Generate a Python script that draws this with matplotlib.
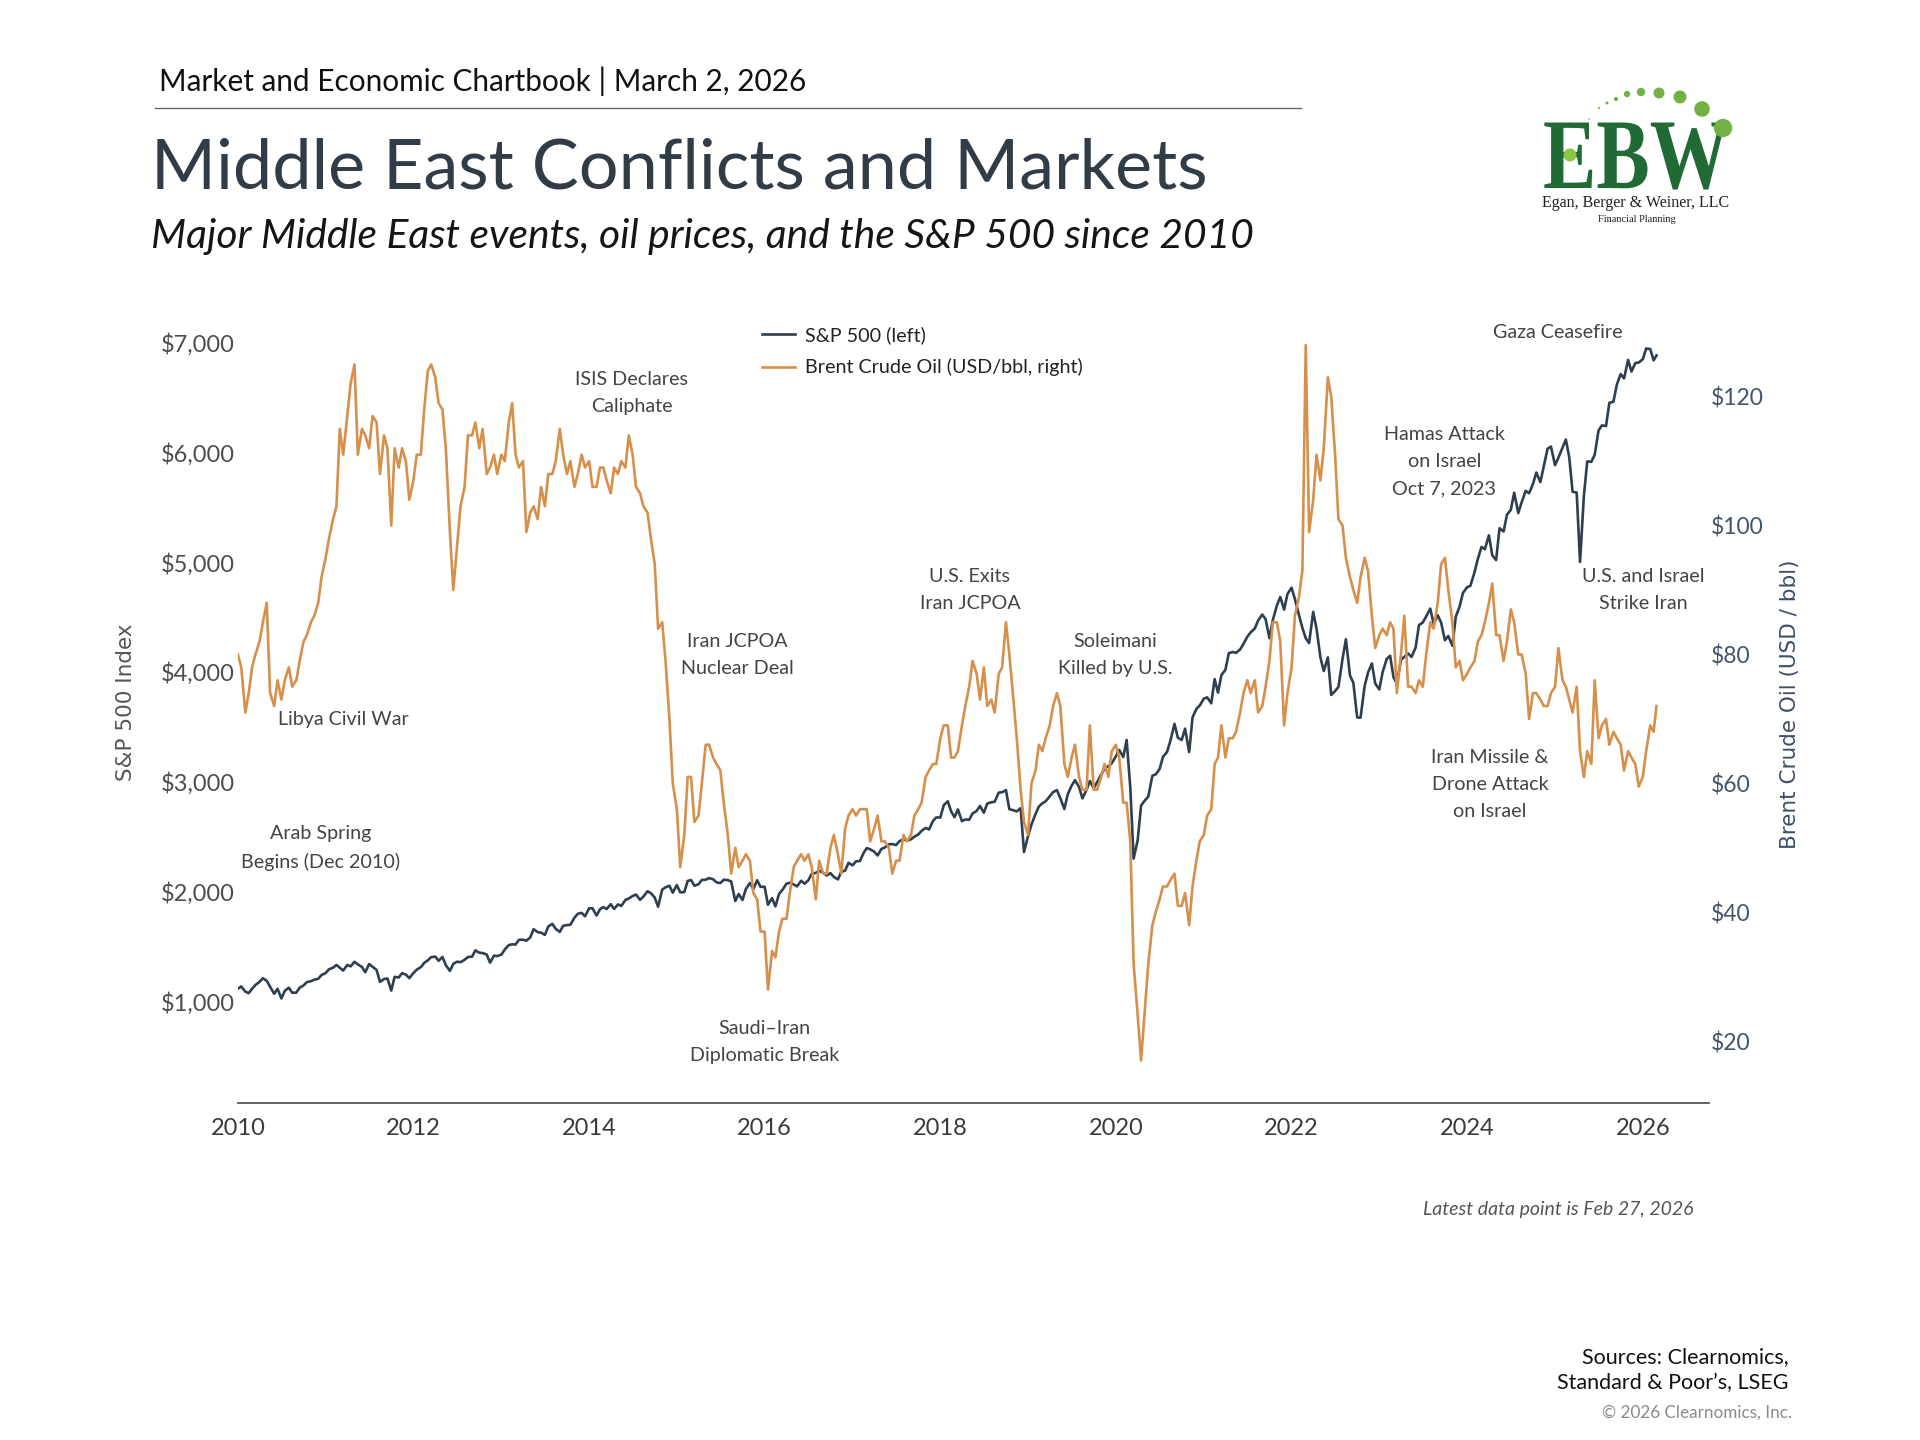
import matplotlib
matplotlib.use('Agg')
import matplotlib.pyplot as plt
import matplotlib.dates as mdates
from matplotlib.lines import Line2D
from matplotlib.patches import PathPatch, Circle
from matplotlib.textpath import TextPath
from matplotlib.font_manager import FontProperties
from matplotlib.transforms import Affine2D
import pandas as pd

plt.rcParams['font.family'] = ['Lato', 'DejaVu Sans']

# S&P 500 level, 1st and 15th of each month (one row per year), last point Feb 27, 2026
sp500 = [
    1115, 1136, 1089, 1075, 1115, 1150, 1178, 1211, 1187, 1135, 1070, 1115, 1027, 1096, 1125, 1079, 1080, 1125, 1146, 1176, 1184, 1198, 1206, 1241,  # 2010
    1258, 1293, 1307, 1332, 1306, 1281, 1332, 1319, 1361, 1337, 1314, 1266, 1340, 1316, 1287, 1178, 1204, 1209, 1099, 1224, 1218, 1257, 1244, 1212,  # 2011
    1258, 1289, 1312, 1351, 1374, 1403, 1408, 1370, 1405, 1330, 1278, 1342, 1362, 1357, 1379, 1405, 1407, 1465, 1444, 1440, 1427, 1353, 1416, 1413,  # 2012
    1426, 1472, 1513, 1520, 1518, 1561, 1562, 1553, 1582, 1658, 1631, 1626, 1606, 1682, 1706, 1661, 1633, 1688, 1695, 1698, 1762, 1798, 1806, 1775,  # 2013
    1848, 1848, 1782, 1838, 1859, 1841, 1885, 1842, 1883, 1870, 1924, 1937, 1960, 1973, 1925, 1955, 2003, 1985, 1946, 1862, 2018, 2039, 2053, 1990,  # 2014
    2059, 1993, 1995, 2097, 2105, 2053, 2067, 2106, 2108, 2123, 2112, 2084, 2077, 2108, 2104, 2092, 1914, 1978, 1923, 2023, 2079, 2023, 2103, 2043,  # 2015
    2044, 1880, 1940, 1865, 1978, 2015, 2072, 2080, 2065, 2047, 2099, 2072, 2103, 2162, 2170, 2190, 2170, 2147, 2168, 2133, 2111, 2180, 2191, 2262,  # 2016
    2239, 2275, 2279, 2349, 2396, 2385, 2363, 2329, 2388, 2402, 2430, 2433, 2423, 2459, 2476, 2465, 2476, 2500, 2519, 2553, 2579, 2565, 2642, 2675,  # 2017
    2674, 2786, 2822, 2730, 2677, 2748, 2641, 2656, 2654, 2711, 2734, 2779, 2718, 2801, 2813, 2818, 2901, 2904, 2924, 2750, 2740, 2730, 2760, 2360,  # 2018
    2507, 2610, 2707, 2775, 2803, 2822, 2867, 2905, 2924, 2850, 2752, 2886, 2964, 3014, 2953, 2848, 2926, 3007, 2940, 2996, 3066, 3120, 3141, 3168,  # 2019
    3231, 3289, 3225, 3380, 2954, 2300, 2470, 2783, 2830, 2864, 3055, 3067, 3115, 3226, 3271, 3373, 3527, 3401, 3380, 3483, 3270, 3585, 3662, 3694,  # 2020
    3756, 3768, 3714, 3934, 3811, 3969, 4020, 4170, 4181, 4173, 4204, 4255, 4320, 4360, 4395, 4468, 4522, 4480, 4307, 4471, 4605, 4682, 4567, 4709,  # 2021
    4766, 4662, 4516, 4401, 4306, 4262, 4546, 4392, 4132, 4008, 4132, 3790, 3825, 3863, 4118, 4297, 3967, 3901, 3585, 3583, 3872, 3992, 4077, 3895,  # 2022
    3840, 3999, 4119, 4147, 3951, 3892, 4109, 4137, 4167, 4136, 4221, 4426, 4450, 4505, 4576, 4437, 4515, 4450, 4288, 4327, 4237, 4502, 4595, 4719,  # 2023
    4770, 4784, 4906, 5029, 5137, 5117, 5243, 5061, 5018, 5308, 5278, 5431, 5475, 5631, 5446, 5543, 5648, 5626, 5709, 5815, 5728, 5870, 6032, 6051,  # 2024
    5882, 5950, 6040, 6115, 5955, 5639, 5633, 5000, 5604, 5916, 5912, 5977, 6198, 6244, 6238, 6449, 6460, 6615, 6711, 6671, 6840, 6734, 6812, 6816,  # 2025
    6846, 6944, 6939, 6836, 6880,  # 2026
]

# Brent crude, USD/bbl, same dates
brent = [
    80, 78, 71, 74, 78, 80, 82, 85, 88, 74, 72, 76, 73, 76, 78, 75, 76, 79, 82, 83, 85, 86, 88, 92,  # 2010
    95, 98, 101, 103, 115, 111, 117, 122, 125, 111, 115, 114, 112, 117, 116, 108, 114, 112, 100, 112, 109, 112, 110, 104,  # 2011
    107, 111, 111, 118, 124, 125, 123, 119, 118, 112, 99, 90, 97, 103, 106, 114, 114, 116, 112, 115, 108, 109, 111, 108,  # 2012
    111, 110, 116, 119, 111, 109, 110, 99, 102, 103, 101, 106, 103, 108, 108, 110, 115, 111, 108, 110, 106, 108, 111, 109,  # 2013
    110, 106, 106, 109, 109, 107, 105, 109, 108, 110, 109, 114, 111, 106, 105, 103, 102, 98, 94, 84, 85, 79, 70, 60,  # 2014
    56, 47, 52, 61, 61, 54, 55, 60, 66, 66, 64, 63, 62, 57, 52, 46, 50, 47, 48, 49, 48, 43, 42, 37,  # 2015
    37, 28, 34, 33, 37, 39, 39, 43, 47, 48, 49, 48, 49, 47, 42, 48, 46, 46, 50, 52, 49, 46, 53, 55,  # 2016
    56, 55, 56, 56, 56, 51, 53, 55, 51, 51, 50, 46, 48, 48, 52, 51, 52, 55, 56, 57, 61, 62, 63, 63,  # 2017
    67, 69, 69, 64, 64, 65, 69, 72, 75, 79, 77, 73, 78, 72, 73, 71, 77, 78, 85, 80, 73, 67, 59, 54,  # 2018
    52, 60, 62, 66, 65, 67, 69, 72, 74, 72, 63, 61, 64, 66, 61, 59, 59, 69, 59, 59, 61, 63, 61, 65,  # 2019
    66, 64, 57, 57, 51, 32, 24, 17, 25, 32, 38, 40, 42, 44, 44, 45, 46, 41, 41, 43, 38, 44, 48, 51,  # 2020
    52, 55, 56, 63, 64, 69, 64, 67, 67, 68, 71, 74, 76, 74, 76, 71, 72, 75, 79, 85, 85, 82, 69, 74,  # 2021
    78, 86, 89, 93, 128, 99, 104, 111, 107, 112, 123, 120, 111, 101, 100, 95, 92, 90, 88, 92, 95, 93, 86, 81,  # 2022
    83, 84, 83, 85, 84, 74, 80, 86, 75, 75, 74, 76, 75, 80, 85, 84, 88, 94, 95, 90, 85, 78, 79, 76,  # 2023
    77, 78, 79, 82, 83, 85, 88, 91, 83, 83, 79, 82, 87, 85, 80, 80, 77, 70, 74, 74, 73, 72, 72, 74,  # 2024
    75, 81, 76, 75, 73, 71, 75, 65, 61, 65, 63, 76, 67, 69, 70, 66, 68, 67, 66, 62, 65, 64, 63, 59.5,  # 2025
    61, 65, 69, 68, 72,  # 2026
]

dates = list(pd.date_range('2010-01-01', '2026-02-15', freq='SMS')) + [pd.Timestamp('2026-02-27')]

sp_ticks = [1000, 2000, 3000, 4000, 5000, 6000, 7000]
oil_ticks = [20, 40, 60, 80, 100, 120]

events = [
    ('ISIS Declares\nCaliphate', 0.2677, 0.9095),
    ('Libya Civil War', 0.0715, 0.492),
    ('Arab Spring\nBegins (Dec 2010)', 0.0564, 0.327),
    ('Iran JCPOA\nNuclear Deal', 0.3392, 0.5746),
    ('Saudi–Iran\nDiplomatic Break', 0.3577, 0.0778),
    ('U.S. Exits\nIran JCPOA', 0.4975, 0.657),
    ('Soleimani\nKilled by U.S.', 0.596, 0.5746),
    ('Hamas Attack\non Israel\nOct 7, 2023', 0.8199, 0.822),
    ('Gaza Ceasefire', 0.8973, 0.987),
    ('U.S. and Israel\nStrike Iran', 0.9554, 0.657),
    ('Iran Missile &\nDrone Attack\non Israel', 0.851, 0.408),
]

SP_COLOR = '#2e3f50'
OIL_COLOR = '#d6904c'

fig = plt.figure(figsize=(19.2, 14.4), dpi=100)
fig.patch.set_facecolor('white')

ax = fig.add_axes([0.1239, 0.234, 0.7664, 0.542])
ax2 = ax.twinx()

ax.plot(dates, sp500, color=SP_COLOR, lw=1.9, label='S&P 500 (left)')
ax2.plot(dates, brent, color=OIL_COLOR, lw=1.9, label='Brent Crude Oil (USD/bbl, right)')

ax.set_xlim(pd.Timestamp('2010-01-01'), pd.Timestamp('2026-10-05'))
ax.set_ylim(75, 7180)
ax2.set_ylim(10.4, 131.5)

ax.set_yticks(sp_ticks)
ax.set_yticklabels([f'${v:,}' for v in sp_ticks])
ax2.set_yticks(oil_ticks)
ax2.set_yticklabels([f'${v}' for v in oil_ticks])

ax.xaxis.set_major_locator(mdates.YearLocator(2))
ax.xaxis.set_major_formatter(mdates.DateFormatter('%Y'))

for a in (ax, ax2):
    for s in a.spines.values():
        s.set_visible(False)
ax.spines['bottom'].set_visible(True)
ax.spines['bottom'].set_color('#555555')
ax.spines['bottom'].set_linewidth(1.3)

ax.tick_params(axis='y', length=0, pad=2, labelsize=17, labelcolor='#4d4d4d')
ax.tick_params(axis='x', length=0, pad=11, labelsize=17, labelcolor='#3a3a3a')
ax2.tick_params(axis='y', length=0, pad=1, labelsize=16.5, labelcolor='#44546a')

# event annotations
for label, fx, fy in events:
    ax2.text(fx, fy, label, transform=ax.transAxes, ha='center', va='center',
             fontsize=14.2, color='#444444', linespacing=1.72, zorder=5)

# legend
h1, l1 = ax.get_legend_handles_labels()
h2, l2 = ax2.get_legend_handles_labels()
leg = ax2.legend(h1 + h2, l1 + l2, loc='upper left', bbox_to_anchor=(0.344, 1.018),
                 frameon=False, fontsize=14.2, handlelength=1.7, handletextpad=0.5,
                 labelspacing=0.72)
for t in leg.get_texts():
    t.set_color('#222222')

# axis titles
fig.text(0.0658, 0.512, 'S&P 500 Index', rotation=90, ha='center', va='center',
         fontsize=15.5, color='#555555', family='DejaVu Sans')
fig.text(0.9323, 0.511, 'Brent Crude Oil (USD / bbl)', rotation=90, ha='center', va='center',
         fontsize=15.5, color='#3d4f68', family='DejaVu Sans')

# header
fig.text(0.0826, 0.937, 'Market and Economic Chartbook | March 2, 2026',
         fontsize=21.4, color='#111111', va='baseline')
fig.add_artist(Line2D([0.0806, 0.6774], [0.925, 0.925], color='#666666', lw=1))
fig.text(0.0787, 0.869, 'Middle East Conflicts and Markets',
         fontsize=50.5, color='#323c47', va='baseline')
fig.text(0.0787, 0.828, 'Major Middle East events, oil prices, and the S&P 500 since 2010',
         fontsize=29.3, color='#151515', style='italic', va='baseline')

# footer
fig.text(0.882, 0.156, 'Latest data point is Feb 27, 2026', fontsize=14,
         style='italic', color='#555555', ha='right', va='baseline')
fig.text(0.9316, 0.0534, 'Sources: Clearnomics,', fontsize=15.5, color='#111111',
         ha='right', va='baseline')
fig.text(0.9316, 0.0353, 'Standard & Poor’s, LSEG', fontsize=15.5, color='#111111',
         ha='right', va='baseline')
fig.text(0.9335, 0.0155, '© 2026 Clearnomics, Inc.', fontsize=12.3, color='#8a8a8a',
         ha='right', va='baseline')

# logo (coordinates in pixels)
lax = fig.add_axes([1540 / 1920, 1 - 240 / 1440, 240 / 1920, 160 / 1440])
lax.set_xlim(1540, 1780)
lax.set_ylim(-240, -80)
lax.axis('off')
green = '#1f6a35'
tp = TextPath((0, 0), 'EBW', size=100,
              prop=FontProperties(family='Liberation Serif', weight='bold'))
lax.add_patch(PathPatch(tp, color=green, lw=0,
                        transform=Affine2D().scale(0.8, 1).translate(1543, -188) + lax.transData))
lax.add_patch(Circle((1570, -155), 6.5, color='#8cc63f', lw=0, zorder=3))
dots = [(1589, -119, 0.8), (1599, -108, 1.1), (1607, -103, 1.5), (1616, -99, 2.1),
        (1627, -94, 3.2), (1641, -92, 4.2), (1659, -93, 5.5), (1680, -97, 6.5),
        (1702, -109, 7.8), (1723, -128, 9.2)]
for x, y, r in dots:
    lax.add_patch(Circle((x, y), r, color='#74b043', lw=0))
lax.text(1542, -207, 'Egan, Berger & Weiner, LLC', fontsize=11.5, color='#222222',
         family='Liberation Serif', va='baseline')
lax.text(1637, -222, 'Financial Planning', fontsize=7.5, color='#222222',
         family='Liberation Serif', va='baseline', ha='center')

fig.savefig('out.png', dpi=100, facecolor='white')
